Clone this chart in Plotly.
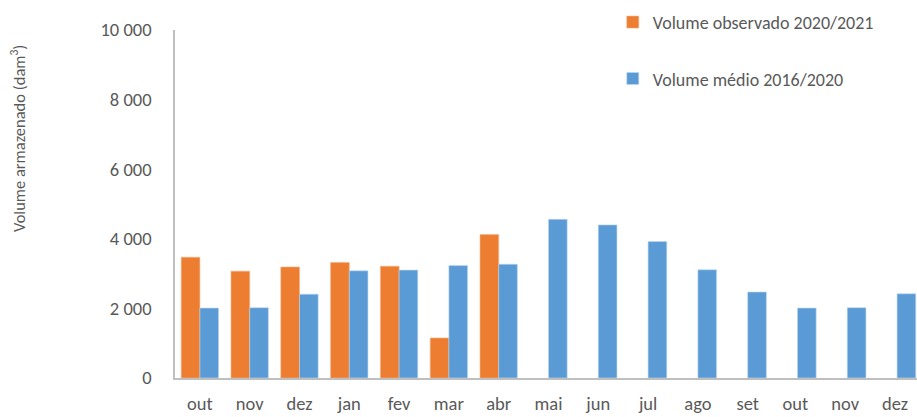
import plotly.graph_objects as go

months = ["out", "nov", "dez", "jan", "fev", "mar", "abr", "mai", "jun", "jul",
          "ago", "set", "out ", "nov ", "dez "]
observado = [3470, 3070, 3190, 3320, 3210, 1150, 4120, None, None, None,
             None, None, None, None, None]
medio = [2010, 2020, 2410, 3080, 3100, 3230, 3270, 4560, 4400, 3920,
         3110, 2470, 2010, 2020, 2420]

font_family = "Calibri, Carlito, Lato, 'Open Sans', sans-serif"
txt_color = "#595959"

fig = go.Figure()
fig.add_trace(go.Bar(x=months, y=observado, name="Volume observado 2020/2021",
                     marker=dict(color="#ED7D31", line=dict(color="#F4B183", width=0.6)),
                     legendgroup="a"))
fig.add_trace(go.Bar(x=months, y=medio, name="Volume médio 2016/2020",
                     marker=dict(color="#5B9BD5", line=dict(color="#BDD7EE", width=0.6)),
                     legendgroup="b"))

fig.update_layout(
    width=917, height=417,
    margin=dict(l=175, r=0, t=30, b=39),
    paper_bgcolor="white", plot_bgcolor="white",
    barmode="group", bargap=0.25, bargroupgap=0,
    separators=", ",
    font=dict(family=font_family, color=txt_color, size=18.5),
    showlegend=True,
    legend=dict(x=0.59, y=1.075, xanchor="left", yanchor="top",
                font=dict(size=18, color=txt_color),
                traceorder="grouped", tracegroupgap=30,
                itemwidth=30, bgcolor="rgba(0,0,0,0)"),
    xaxis=dict(type="category", range=[-0.5, 14.4], showline=True,
               linecolor="#BFBFBF", linewidth=1.5, ticks="", showgrid=False,
               ticklabelstandoff=8, tickfont=dict(size=18.5, color=txt_color)),
    yaxis=dict(range=[0, 10000], tickvals=[0, 2000, 4000, 6000, 8000, 10000],
               tickformat=",d", showline=True, linecolor="#BFBFBF", linewidth=1.5,
               ticks="", showgrid=False, zeroline=False, ticklabelstandoff=18,
               tickfont=dict(size=18.5, color=txt_color)),
    annotations=[dict(text="Volume armazenado (dam<sup>3</sup>)", textangle=-90,
                      xref="paper", yref="paper", x=-175/742 + 18/742, y=(378-139)/348,
                      xanchor="center", yanchor="middle", showarrow=False,
                      font=dict(size=16.5, color=txt_color, family=font_family))],
)

fig.write_html("out.html", config={"displayModeBar": False},
               post_script="document.body.style.margin='0';document.body.style.padding='0';")
